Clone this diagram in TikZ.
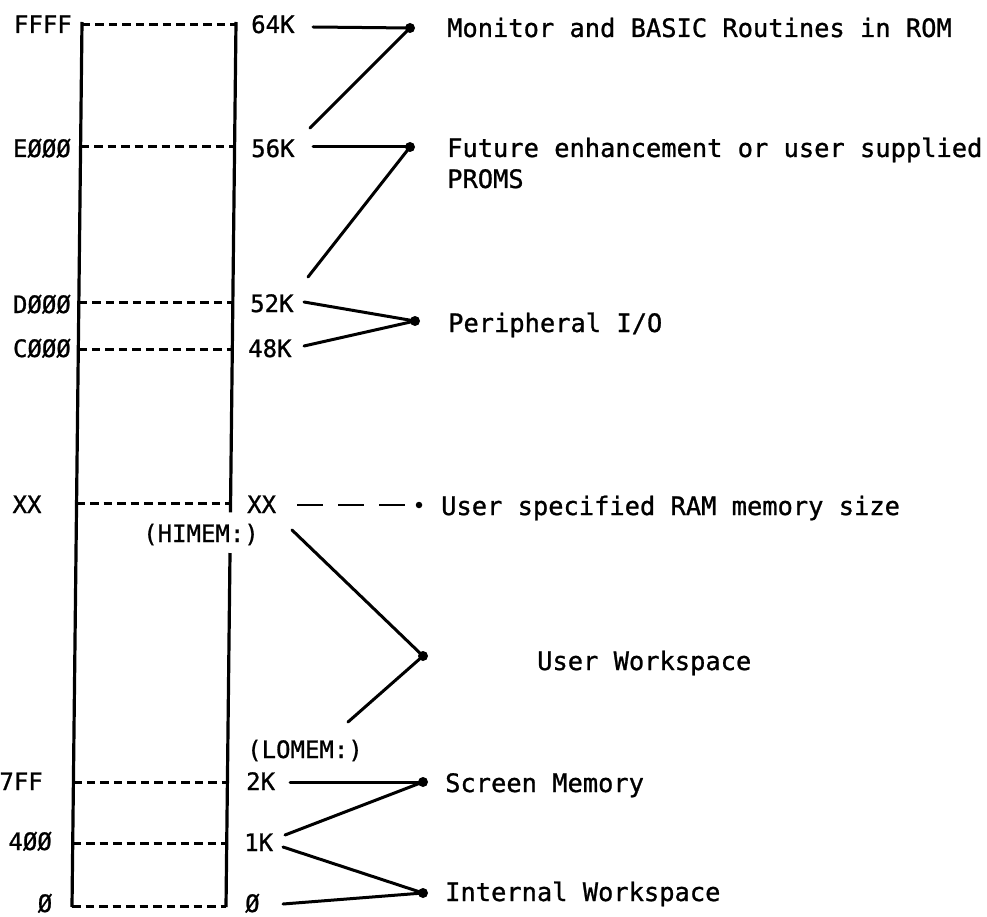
\documentclass[tikz,border=0pt]{standalone}
\usepackage{fontspec}
\setmonofont[FakeBold=1]{DejaVu Sans Mono}
\usetikzlibrary{calc}
\begin{document}
\begin{tikzpicture}[x=1pt,y=-1pt,
  lab/.style={font=\ttfamily\fontsize{24}{29}\selectfont, inner sep=0pt},
  labl/.style={lab, anchor=base west},
  labr/.style={lab, anchor=base east},
  labc/.style={lab, anchor=base},
  desc/.style={font=\ttfamily\fontsize{25.4}{32}\selectfont, inner sep=0pt, anchor=base west},
  frame/.style={line width=3.2pt},
  row/.style={line width=3pt, dash pattern=on 8.5pt off 5pt},
  conn/.style={line width=3pt, line cap=round},
  rowdash/.style={line width=2.8pt, dash pattern=on 26pt off 15pt},
  dot/.style={circle, fill=black, inner sep=0pt, minimum size=10pt},
  sdot/.style={circle, fill=black, inner sep=0pt, minimum size=6.5pt}
]
\useasboundingbox (0,0) rectangle (987,917);

% frame of the memory column
\coordinate (LT) at (82,22);
\coordinate (LB) at (72,907);
\coordinate (RT) at (236,22);
\coordinate (RB) at (226,907);
\draw[frame] (LT) -- (LB);
\draw[frame] (RT) -- ($(RT)!0.554!(RB)$);
\draw[frame] ($(RT)!0.600!(RB)$) -- (RB);

% dashed rows
\foreach \t/\n in {0.003/r64,0.1412/r56,0.3175/r52,0.3706/r48,0.5435/rxx,0.8588/r2,0.9288/r1,0.9989/r0}{
  \coordinate (\n L) at ($(LT)!\t!(LB)$);
  \coordinate (\n R) at ($(RT)!\t!(RB)$);
  \draw[row] (\n L) -- (\n R);
}

% left address labels
\node[labr] (aF) at (72,33) {FFFF};
\node[labr] (aE) at (71,157) {EØØØ};
\node[labr] (aD) at (71,313) {DØØØ};
\node[labr] (aC) at (71,357) {CØØØ};
\node[labc] (aX) at (27,513) {XX};
\node[labr] (a7) at (43,790) {7FF};
\node[labr] (a4) at (52,850) {4ØØ};
\node[labc] (a0) at (45,912) {Ø};

% right size labels
\node[labl] (k64) at (251,33) {64K};
\node[labl] (k56) at (251,157) {56K};
\node[labl] (k52) at (250,312) {52K};
\node[labl] (k48) at (248,357) {48K};
\node[labl] (kX) at (247,513) {XX};
\node[labc] (hi) at (201,542) {(HIMEM:)};
\node[labc] (lo) at (305,758) {(LOMEM:)};
\node[labl] (k2) at (246,790) {2K};
\node[labl] (k1) at (244,851) {1K};
\node[labl] (k0) at (245,912) {Ø};

% junction dots
\node[dot] (pMon) at (410,28) {};
\node[dot] (pFut) at (410,147) {};
\node[dot] (pPer) at (415,321) {};
\node[sdot] (pRam) at (419,505) {};
\node[dot] (pUW) at (423,656) {};
\node[dot] (pScr) at (423,782) {};
\node[dot] (pInt) at (423,893) {};

% connector free ends
\coordinate (c64) at (313,27);
\coordinate (c56u) at (310,128);
\coordinate (c56) at (313,147);
\coordinate (c52u) at (308,277);
\coordinate (c52) at (304,302);
\coordinate (c48) at (304,346);
\coordinate (cX) at (297,505);
\coordinate (cHi) at (292,530);
\coordinate (cLo) at (348,722);
\coordinate (c2) at (290,782);
\coordinate (c1u) at (285,835);
\coordinate (c1d) at (283,847);
\coordinate (c0) at (283,904);

\draw[conn] (c64) -- (pMon.center);
\draw[conn] (c56u) -- (pMon.center);
\draw[conn] (c56) -- (pFut.center);
\draw[conn] (c52u) -- (pFut.center);
\draw[conn] (c52) -- (pPer.center);
\draw[conn] (c48) -- (pPer.center);
\draw[rowdash] (cX) -- (pRam.west);
\draw[conn] (cHi) -- (pUW.center);
\draw[conn] (cLo) -- (pUW.center);
\draw[conn] (c2) -- (pScr.center);
\draw[conn] (c1u) -- (pScr.center);
\draw[conn] (c1d) -- (pInt.center);
\draw[conn] (c0) -- (pInt.center);

% descriptions
\node[desc] (tMon) at (447,37) {Monitor and BASIC Routines in ROM};
\node[desc] (tFut) at (447,157) {Future enhancement or user supplied};
\node[desc] (tProms) at (447,188) {PROMS};
\node[desc] (tPer) at (448,332) {Peripheral I/O};
\node[desc] (tRam) at (441,515) {User specified RAM memory size};
\node[desc] (tUW) at (537,670) {User Workspace};
\node[desc] (tScr) at (445,792) {Screen Memory};
\node[desc] (tInt) at (445,901) {Internal Workspace};
\end{tikzpicture}
\end{document}
